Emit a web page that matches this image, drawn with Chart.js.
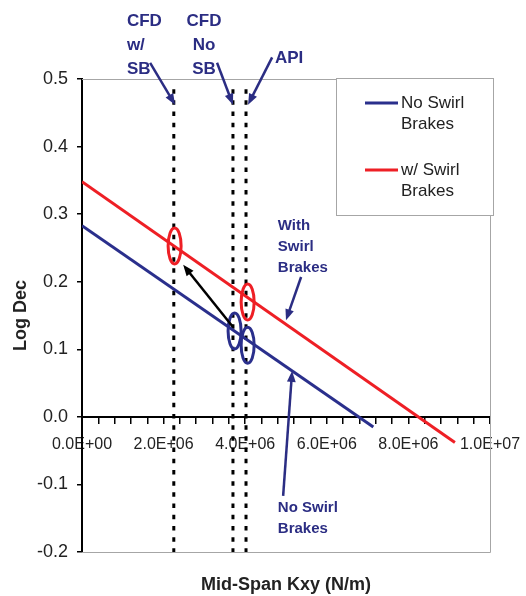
<!DOCTYPE html>
<html>
<head>
<meta charset="utf-8">
<script src="https://cdn.jsdelivr.net/npm/chart.js@4.4.1/dist/chart.umd.min.js"></script>
<style>
  html, body { margin: 0; padding: 0; background: #fff; }
  #wrap { width: 526px; height: 596px; }
</style>
</head>
<body>
<div id="wrap"><canvas id="kxyChart" width="526" height="596"></canvas></div>
<script>
// series (Kxy in N/m, log dec)
var seriesNames = ['No Swirl Brakes', 'w/ Swirl Brakes'];
var noSbKxy = [0, 7.14e6];
var noSbLogDec = [0.283, -0.015];
var sbKxy = [0, 9.14e6];
var sbLogDec = [0.348, -0.038];

// vertical reference lines
var refNames = ['CFD w/ SB', 'CFD No SB', 'API'];
var refKxy = [2.25e6, 3.70e6, 4.02e6];
var refLogDec = [0.485, -0.2];

// circled operating points
var circleKxy = [2.27e6, 3.74e6, 4.06e6, 4.06e6];
var circleLogDec = [0.253, 0.127, 0.106, 0.170];
var circleSeries = [1, 0, 0, 1];

// axis ranges / ticks
var xMin = 0, xMax = 1e7, xStep = 4e5, xLabelEvery = 2e6;
var yMin = -0.2, yMax = 0.5, yStep = 0.1;

// callouts: text lines, anchor (data), arrows from -> to (data)
var callouts = [
  { lines: ['CFD', 'w/', 'SB'], x: 1.10e6, y: 0.586, align: 'left', big: true,
    from: [1.67e6, 0.524], to: [2.28e6, 0.462] },
  { lines: ['CFD', 'No', 'SB'], x: 2.99e6, y: 0.586, align: 'center', big: true,
    from: [3.31e6, 0.524], to: [3.70e6, 0.462] },
  { lines: ['API'], x: 4.73e6, y: 0.531, align: 'left', big: true,
    from: [4.66e6, 0.532], to: [4.07e6, 0.462] },
  { lines: ['With', 'Swirl', 'Brakes'], x: 4.80e6, y: 0.282, align: 'left', big: false,
    from: [5.37e6, 0.207], to: [5.00e6, 0.143] },
  { lines: ['No Swirl', 'Brakes'], x: 4.80e6, y: -0.135, align: 'left', big: false,
    from: [4.93e6, -0.117], to: [5.15e6, 0.068] }
];
var shiftArrow = { from: [3.70e6, 0.133], to: [2.48e6, 0.225] };

var navy = '#2b2d83';
var blue = '#2a2f8c';
var red = '#ee1f25';
var font = '"Liberation Sans", Arial, sans-serif';

function sci(v) {
  if (v === 0) return '0.0E+00';
  var e = Math.floor(Math.log10(v) + 1e-9);
  var m = v / Math.pow(10, e);
  return m.toFixed(1) + 'E+' + (e < 10 ? '0' + e : e);
}

function toPts(xs, ys) {
  var out = [];
  for (var i = 0; i < xs.length; i++) out.push({ x: xs[i], y: ys[i] });
  return out;
}

var datasets = [
  { label: seriesNames[0], data: toPts(noSbKxy, noSbLogDec), borderColor: blue, borderWidth: 3, pointRadius: 0 },
  { label: seriesNames[1], data: toPts(sbKxy, sbLogDec), borderColor: red, borderWidth: 3, pointRadius: 0 }
];
refKxy.forEach(function (k, i) {
  datasets.push({
    label: refNames[i],
    data: toPts([k, k], refLogDec),
    borderColor: '#000', borderWidth: 3, borderDash: [4.5, 6.7], pointRadius: 0
  });
});

function arrow(ctx, x1, y1, x2, y2, color, w, head) {
  var a = Math.atan2(y2 - y1, x2 - x1);
  ctx.save();
  ctx.strokeStyle = color; ctx.fillStyle = color; ctx.lineWidth = w;
  ctx.beginPath();
  ctx.moveTo(x1, y1);
  ctx.lineTo(x2 - Math.cos(a) * head * 0.8, y2 - Math.sin(a) * head * 0.8);
  ctx.stroke();
  ctx.beginPath();
  ctx.moveTo(x2, y2);
  ctx.lineTo(x2 - head * Math.cos(a) + head * 0.4 * Math.sin(a), y2 - head * Math.sin(a) - head * 0.4 * Math.cos(a));
  ctx.lineTo(x2 - head * Math.cos(a) - head * 0.4 * Math.sin(a), y2 - head * Math.sin(a) + head * 0.4 * Math.cos(a));
  ctx.closePath();
  ctx.fill();
  ctx.restore();
}

var decor = {
  id: 'decor',
  beforeDatasetsDraw: function (chart) {
    var ctx = chart.ctx, a = chart.chartArea;
    ctx.save();
    ctx.strokeStyle = '#a6a6a6';
    ctx.lineWidth = 1;
    ctx.beginPath();
    ctx.moveTo(a.left, a.top + 0.5);
    ctx.lineTo(a.right + 0.5, a.top + 0.5);
    ctx.lineTo(a.right + 0.5, a.bottom + 0.5);
    ctx.lineTo(a.left, a.bottom + 0.5);
    ctx.stroke();
    ctx.restore();
  },
  afterDatasetsDraw: function (chart) {
    var ctx = chart.ctx, xs = chart.scales.x, ys = chart.scales.y;
    var px = function (v) { return xs.getPixelForValue(v); };
    var py = function (v) { return ys.getPixelForValue(v); };
    var colors = [blue, red];

    // ellipses
    ctx.save();
    ctx.lineWidth = 3;
    circleKxy.forEach(function (k, i) {
      ctx.strokeStyle = colors[circleSeries[i]];
      ctx.beginPath();
      ctx.ellipse(px(k), py(circleLogDec[i]), 6.5, 18, 0, 0, Math.PI * 2);
      ctx.stroke();
    });
    ctx.restore();

    arrow(ctx, px(shiftArrow.from[0]), py(shiftArrow.from[1]), px(shiftArrow.to[0]), py(shiftArrow.to[1]), '#000', 2.5, 11);

    // callouts
    callouts.forEach(function (c) {
      ctx.save();
      ctx.fillStyle = navy;
      ctx.font = 'bold ' + (c.big ? 17 : 15) + 'px ' + font;
      ctx.textAlign = c.align;
      ctx.textBaseline = 'middle';
      var lh = c.big ? 24 : 21;
      c.lines.forEach(function (t, j) {
        ctx.fillText(t, px(c.x), py(c.y) + j * lh);
      });
      ctx.restore();
      arrow(ctx, px(c.from[0]), py(c.from[1]), px(c.to[0]), py(c.to[1]), navy, 2.5, 11);
    });

    // legend box
    var lx = 336, ly = 78, lw = 157, lh = 137;
    ctx.save();
    ctx.fillStyle = '#fff';
    ctx.fillRect(lx, ly, lw, lh);
    ctx.strokeStyle = '#a6a6a6';
    ctx.lineWidth = 1;
    ctx.strokeRect(lx + 0.5, ly + 0.5, lw, lh);
    ctx.font = '17px ' + font;
    ctx.textBaseline = 'middle';
    ctx.fillStyle = '#222';
    var rows = [103, 170];
    seriesNames.forEach(function (n, i) {
      var words = n.split(' ');
      var first = words.slice(0, words.length - 1).join(' ');
      var second = words[words.length - 1];
      ctx.strokeStyle = colors[i];
      ctx.lineWidth = 3;
      ctx.beginPath();
      ctx.moveTo(365, rows[i]);
      ctx.lineTo(398, rows[i]);
      ctx.stroke();
      ctx.fillText(first, 401, rows[i]);
      ctx.fillText(second, 401, rows[i] + 21);
    });
    ctx.restore();

    // x axis title
    ctx.save();
    ctx.font = 'bold 18px ' + font;
    ctx.fillStyle = '#222';
    ctx.textAlign = 'center';
    ctx.textBaseline = 'middle';
    ctx.fillText('Mid-Span Kxy (N/m)', (chart.chartArea.left + chart.chartArea.right) / 2, 585);
    ctx.restore();
  }
};

var ctx = document.getElementById('kxyChart');
var chart = new Chart(ctx, {
  type: 'line',
  data: { datasets: datasets },
  options: {
    responsive: false,
    animation: false,
    layout: { padding: { left: 0, top: 79, right: 36, bottom: 44 } },
    plugins: { legend: { display: false }, tooltip: { enabled: false } },
    scales: {
      x: {
        type: 'linear',
        position: { y: 0 },
        min: xMin, max: xMax,
        afterFit: function (s) { s.paddingLeft = 0; s.paddingRight = 0; },
        border: { color: '#000', width: 2 },
        grid: { drawOnChartArea: false, drawTicks: true, tickLength: 6, color: '#000', lineWidth: 1.5 },
        ticks: {
          stepSize: xStep, autoSkip: false, maxRotation: 0, padding: 12,
          color: '#222', font: { size: 16, family: font },
          callback: function (v) {
            return Math.round(v / 2e5) % Math.round(xLabelEvery / 2e5) === 0 ? sci(v) : '';
          }
        }
      },
      y: {
        type: 'linear',
        min: yMin, max: yMax,
        afterFit: function (s) { s.width = 82; s.paddingTop = 0; s.paddingBottom = 0; },
        border: { color: '#000', width: 2 },
        grid: { drawOnChartArea: false, drawTicks: true, tickLength: 5, color: '#000', lineWidth: 1.5 },
        ticks: {
          stepSize: yStep, padding: 9,
          color: '#222', font: { size: 18, family: font },
          callback: function (v) { return (Math.abs(v) < 1e-9 ? 0 : v).toFixed(1); }
        },
        title: {
          display: true, text: 'Log Dec', color: '#222',
          font: { size: 18, weight: 'bold', family: font },
          padding: { top: 10, bottom: 0 }
        }
      }
    }
  },
  plugins: [decor]
});
</script>
</body>
</html>
